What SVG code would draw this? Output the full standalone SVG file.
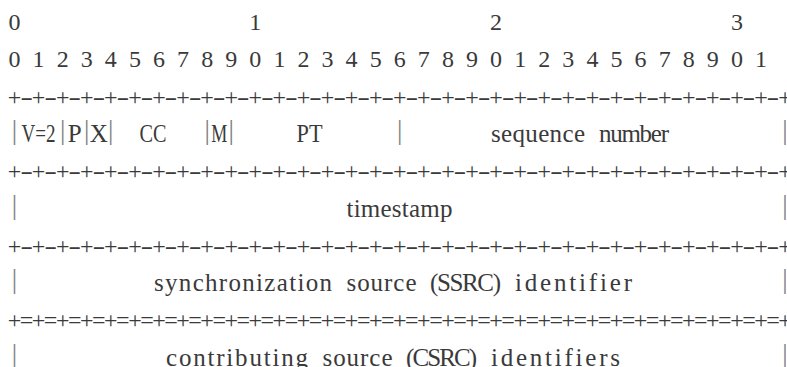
<svg xmlns="http://www.w3.org/2000/svg" width="787" height="367" viewBox="0 0 787 367">
<style>
text{font-family:"Liberation Serif","Times New Roman",serif;font-size:25px;fill:#3a3a3a}
.c{text-anchor:middle}
.d{font-size:24px;text-anchor:middle}
.bar{font-size:27px;text-anchor:middle;fill:#808080}
</style>
<defs>
<g id="sepDash">
<text class="d" x="14.5 38.58 62.66 86.74 110.82 134.9 158.98 183.06 207.14 231.22 255.3 279.38 303.46 327.54 351.62 375.7 399.78 423.86 447.94 472.02 496.1 520.18 544.26 568.34 592.42 616.5 640.58 664.66 688.74 712.82 736.9 760.98 785.06" y="0">+++++++++++++++++++++++++++++++++</text>
<text class="d" transform="scale(1.6,1)" x="16.59 31.64 46.69 61.74 76.79 91.84 106.89 121.94 136.99 152.04 167.09 182.14 197.19 212.24 227.29 242.34 257.39 272.44 287.49 302.54 317.59 332.64 347.69 362.74 377.79 392.84 407.89 422.94 437.99 453.04 468.09 483.14" y="0">--------------------------------</text>
</g>
<g id="sepEq">
<text class="d" x="14.5 38.58 62.66 86.74 110.82 134.9 158.98 183.06 207.14 231.22 255.3 279.38 303.46 327.54 351.62 375.7 399.78 423.86 447.94 472.02 496.1 520.18 544.26 568.34 592.42 616.5 640.58 664.66 688.74 712.82 736.9 760.98 785.06" y="0">+++++++++++++++++++++++++++++++++</text>
<text class="d" x="26.54 50.62 74.7 98.78 122.86 146.94 171.02 195.1 219.18 243.26 267.34 291.42 315.5 339.58 363.66 387.74 411.82 435.9 459.98 484.06 508.14 532.22 556.3 580.38 604.46 628.54 652.62 676.7 700.78 724.86 748.94 773.02" y="0">================================</text>
</g>
</defs>
<rect width="787" height="367" fill="#fff"/>
<g id="bit-ruler">
<text class="d" x="14.5 255.3 496.1 736.9" y="30">0123</text>
<text class="d" x="14.5 38.58 62.66 86.74 110.82 134.9 158.98 183.06 207.14 231.22 255.3 279.38 303.46 327.54 351.62 375.7 399.78 423.86 447.94 472.02 496.1 520.18 544.26 568.34 592.42 616.5 640.58 664.66 688.74 712.82 736.9 760.98" y="67.3">01234567890123456789012345678901</text>
</g>
<g id="separators">
<use href="#sepDash" y="104.6"/>
<use href="#sepDash" y="179.2"/>
<use href="#sepDash" y="253.8"/>
<use href="#sepEq" y="328.4"/>
</g>
<g id="row-header">
<text class="bar" x="14.5" y="139">|</text>
<text class="bar" x="62.66" y="139">|</text>
<text class="bar" x="86.74" y="139">|</text>
<text class="bar" x="110.82" y="139">|</text>
<text class="bar" x="207.14" y="139">|</text>
<text class="bar" x="231.22" y="139">|</text>
<text class="bar" x="399.78" y="139">|</text>
<text class="bar" x="785.06" y="139">|</text>
<text x="21.5" y="141.9" textLength="34" lengthAdjust="spacingAndGlyphs">V=2</text>
<text class="c" x="74.7" y="141.9">P</text>
<text class="c" x="98.78" y="141.9">X</text>
<text x="139.5" y="141.9" textLength="27" lengthAdjust="spacingAndGlyphs">CC</text>
<text x="211.2" y="141.9" textLength="16" lengthAdjust="spacingAndGlyphs">M</text>
<text x="296.5" y="141.9" textLength="26" lengthAdjust="spacingAndGlyphs">PT</text>
<text x="491" y="141.9" textLength="94" lengthAdjust="spacing">sequence</text>
<text x="599" y="141.9" textLength="70" lengthAdjust="spacing">number</text>
</g>
<g id="row-timestamp">
<text class="bar" x="14.5" y="213.6">|</text>
<text class="bar" x="785.06" y="213.6">|</text>
<text x="346.5" y="216.5" textLength="106" lengthAdjust="spacing">timestamp</text>
</g>
<g id="row-ssrc">
<text class="bar" x="14.5" y="288.2">|</text>
<text class="bar" x="785.06" y="288.2">|</text>
<text x="154" y="291.1" textLength="178" lengthAdjust="spacing">synchronization</text>
<text x="346.5" y="291.1" textLength="70" lengthAdjust="spacing">source</text>
<text x="430" y="291.1" textLength="71" lengthAdjust="spacing">(SSRC)</text>
<text x="515" y="291.1" textLength="117" lengthAdjust="spacing">identifier</text>
</g>
<g id="row-csrc">
<text class="bar" x="14.5" y="362.8">|</text>
<text class="bar" x="785.06" y="362.8">|</text>
<text x="166" y="365.7" textLength="142" lengthAdjust="spacing">contributing</text>
<text x="322.5" y="365.7" textLength="70" lengthAdjust="spacing">source</text>
<text x="406" y="365.7" textLength="71" lengthAdjust="spacing">(CSRC)</text>
<text x="491" y="365.7" textLength="129" lengthAdjust="spacing">identifiers</text>
</g>
</svg>
